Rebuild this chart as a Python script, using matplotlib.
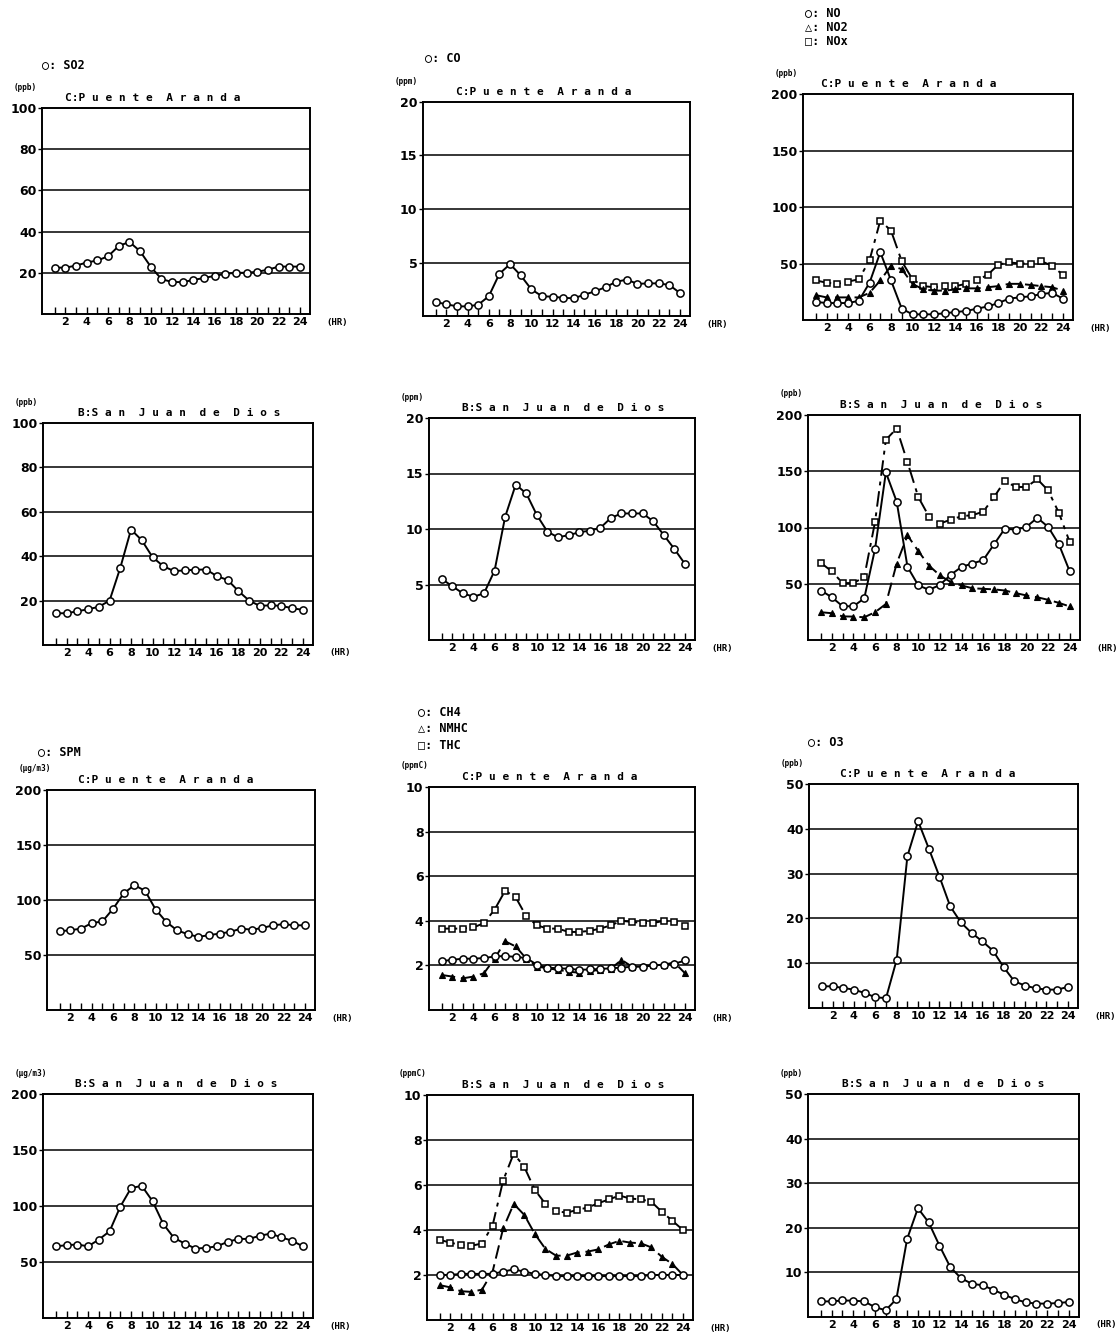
import matplotlib
matplotlib.use('Agg')
import matplotlib.pyplot as plt

# ---------------- data ----------------
hours = list(range(1, 25))
xtick_labels = [str(h) if h % 2 == 0 else '' for h in hours]

so2_c = [22.5, 22.5, 23.5, 25, 26, 28, 33, 35, 30.5, 23, 17, 15.5, 15.5, 16.5, 17.5, 18.5, 19.5, 20, 20, 20.5, 21.5, 23, 23, 23]
co_c = [1.3, 1.1, 0.9, 0.9, 1.05, 1.85, 3.95, 4.85, 3.8, 2.5, 1.85, 1.8, 1.7, 1.65, 2.0, 2.3, 2.7, 3.2, 3.4, 3.0, 3.05, 3.05, 2.9, 2.15]
no_c = [16, 15, 15, 15, 17, 33, 60, 35, 10, 5, 5, 5, 6, 7, 8, 10, 12, 15, 19, 20, 21, 23, 24, 19]
no2_c = [22, 20, 20, 20, 20, 24, 35, 48, 45, 32, 27, 26, 26, 27, 28, 28, 29, 30, 32, 32, 31, 30, 29, 26]
nox_c = [35, 33, 32, 34, 36, 53, 88, 79, 52, 36, 30, 29, 30, 30, 32, 35, 40, 49, 51, 50, 50, 52, 48, 40]

so2_b = [14.3, 14.3, 15.2, 16.1, 17.2, 20, 34.8, 52, 47.2, 39.6, 35.5, 33.3, 33.6, 33.9, 34, 31, 29.3, 24.3, 20, 17.6, 17.9, 17.6, 16.6, 15.8]
co_b = [5.5, 4.85, 4.2, 3.9, 4.2, 6.25, 11.1, 14.0, 13.2, 11.25, 9.75, 9.25, 9.45, 9.7, 9.85, 10.1, 11.0, 11.4, 11.4, 11.4, 10.7, 9.45, 8.2, 6.85]
no_b = [44, 38, 30, 30, 37, 81, 149, 123, 65, 48.5, 44.6, 49, 58, 65, 68, 71, 85, 99, 98, 100.6, 108.6, 100.6, 85, 61]
no2_b = [24.7, 23.8, 21, 20.8, 20.2, 24.7, 32, 68, 93, 79, 66, 57.4, 51.5, 48.5, 46, 45.5, 45, 44, 41.7, 39.6, 38, 35.7, 33, 29.8]
nox_b = [68.5, 61, 50.6, 50.6, 56, 105, 178, 188, 158, 127, 109.5, 103.5, 107, 110, 111, 114, 127, 141.5, 136, 136, 143, 133, 113, 87]

spm_c = [71.6, 72.5, 74, 79, 80.5, 92, 106, 113.5, 108.4, 91.3, 80, 72.5, 68.9, 66.5, 68, 69.5, 71, 74, 73, 74.5, 77, 78, 77, 77]
ch4_c = [2.19, 2.25, 2.3, 2.3, 2.33, 2.4, 2.42, 2.38, 2.33, 2.03, 1.9, 1.87, 1.85, 1.8, 1.82, 1.84, 1.87, 1.9, 1.94, 1.94, 2.0, 2.03, 2.07, 2.22]
nmhc_c = [1.57, 1.5, 1.42, 1.5, 1.65, 2.3, 3.08, 2.85, 2.3, 1.95, 1.87, 1.8, 1.72, 1.67, 1.75, 1.8, 1.85, 2.25, 1.94, 1.98, 2.0, 2.03, 2.13, 1.65]
thc_c = [3.65, 3.65, 3.65, 3.7, 3.9, 4.5, 5.35, 5.05, 4.2, 3.8, 3.65, 3.65, 3.5, 3.5, 3.55, 3.65, 3.8, 4.0, 3.95, 3.9, 3.9, 4.0, 3.95, 3.75]
o3_c = [4.84, 4.84, 4.47, 4.1, 3.35, 2.4, 2.2, 10.8, 33.9, 41.7, 35.6, 29.3, 22.7, 19.1, 16.75, 14.9, 12.8, 9.1, 5.96, 5.0, 4.4, 4.1, 4.1, 4.7]

spm_b = [64, 65, 65.6, 64, 70, 77.4, 99.4, 116, 118, 104.4, 84, 71.5, 66.5, 62, 62.6, 64, 68, 70.6, 70.6, 73.5, 75.3, 72, 69, 64]
ch4_b = [2.0, 2.0, 2.05, 2.05, 2.05, 2.05, 2.15, 2.25, 2.15, 2.05, 2.0, 1.95, 1.95, 1.95, 1.95, 1.95, 1.95, 1.95, 1.95, 1.95, 2.0, 2.0, 2.0, 2.0]
nmhc_b = [1.55, 1.45, 1.28, 1.25, 1.35, 2.15, 4.07, 5.16, 4.67, 3.82, 3.16, 2.86, 2.86, 3.0, 3.04, 3.14, 3.36, 3.52, 3.44, 3.41, 3.23, 2.81, 2.49, 2.0]
thc_b = [3.56, 3.44, 3.33, 3.3, 3.4, 4.2, 6.2, 7.4, 6.8, 5.78, 5.16, 4.84, 4.77, 4.89, 5.0, 5.19, 5.36, 5.53, 5.4, 5.36, 5.26, 4.81, 4.41, 4.0]
o3_b = [3.5, 3.5, 3.7, 3.66, 3.5, 2.24, 1.5, 4.0, 17.5, 24.4, 21.2, 16.0, 11.2, 8.7, 7.46, 7.1, 6.1, 5.0, 4.0, 3.28, 3.0, 3.0, 3.13, 3.36]

title_c = "C:Puente Aranda"
title_b = "B:San Juan de Dios"

# ---------------- drawing ----------------
W, H = 1119, 1334
fig = plt.figure(figsize=(W / 100, H / 100), dpi=100)
fig.patch.set_facecolor('white')
MONO = ['DejaVu Sans Mono', 'DejaVu Sans']


def spaced(t):
    head, rest = t.split(':', 1)
    words = rest.split(' ')
    return head + ':' + '  '.join(' '.join(w) for w in words)


def fx(px):
    return px / W


def fy(py):
    return 1 - py / H


STY = {
    'o': dict(marker='o', ms=5.2, mfc='white', mec='black', mew=1.1, color='black', lw=1.4, ls='-'),
    '^': dict(marker='^', ms=5.0, mfc='black', mec='black', mew=0.8, color='black', lw=1.4, ls=(0, (7, 3))),
    's': dict(marker='s', ms=5.0, mfc='white', mec='black', mew=1.1, color='black', lw=1.4, ls=(0, (8, 3, 2, 3))),
}


def panel(L, R, T, B, ymax, yticks, unit, title, series, toff=32):
    ax = fig.add_axes([fx(L), fy(B), (R - L) / W, (B - T) / H])
    ax.set_xlim(-0.2, 24.95)
    ax.set_ylim(0, ymax)
    for y in yticks[:-1]:
        ax.axhline(y, color='black', lw=1.1, zorder=1)
    ax.set_yticks(yticks)
    ax.set_yticklabels([str(v) for v in yticks], fontweight='bold', fontsize=9)
    ax.tick_params(axis='y', direction='out', length=3, width=1, pad=1)
    ax.set_xticks(hours)
    ax.set_xticklabels(xtick_labels, fontweight='bold', fontsize=8)
    ax.tick_params(axis='x', direction='in', length=5, width=1, pad=2)
    for s in ax.spines.values():
        s.set_linewidth(1.4)
    for vals, mk in series:
        ax.plot(hours, vals, zorder=3, **STY[mk])
    fig.text(fx(R + 16), fy(B + 8), '(HR)', fontsize=6.5, fontweight='bold', va='center', ha='left',
             family=MONO)
    fig.text(fx(L - 28), fy(T - 21), unit, fontsize=5.5, fontweight='bold', va='center', ha='left',
             family=MONO)
    fig.text(fx(L + toff), fy(T - 10), spaced(title), fontsize=8, fontweight='bold', va='center',
             ha='left', family=MONO)
    return ax


# Row 1 (C: Puente Aranda)
panel(42, 310, 108, 314, 100, [20, 40, 60, 80, 100], '(ppb)', title_c, [(so2_c, 'o')], toff=23)
panel(423, 690, 102, 316, 20, [5, 10, 15, 20], '(ppm)', title_c, [(co_c, 'o')], toff=33)
panel(803, 1073, 94, 320, 200, [50, 100, 150, 200], '(ppb)', title_c,
      [(nox_c, 's'), (no2_c, '^'), (no_c, 'o')], toff=18)

# Row 2 (B: San Juan de Dios)
panel(43, 313, 423, 645, 100, [20, 40, 60, 80, 100], '(ppb)', title_b, [(so2_b, 'o')], toff=35)
panel(429, 695, 418, 640, 20, [5, 10, 15, 20], '(ppm)', title_b, [(co_b, 'o')], toff=33)
panel(808, 1080, 415, 640, 200, [50, 100, 150, 200], '(ppb)', title_b,
      [(nox_b, 's'), (no2_b, '^'), (no_b, 'o')], toff=32)

# Row 3 (C: Puente Aranda)
panel(47, 315, 790, 1010, 200, [50, 100, 150, 200], '(\u00b5g/m3)', title_c, [(spm_c, 'o')], toff=31)
panel(429, 695, 787, 1010, 10, [2, 4, 6, 8, 10], '(ppmC)', title_c,
      [(thc_c, 's'), (nmhc_c, '^'), (ch4_c, 'o')], toff=33)
panel(809, 1078, 784, 1008, 50, [10, 20, 30, 40, 50], '(ppb)', title_c, [(o3_c, 'o')], toff=31)

# Row 4 (B: San Juan de Dios)
panel(43, 313, 1094, 1318, 200, [50, 100, 150, 200], '(\u00b5g/m3)', title_b, [(spm_b, 'o')], toff=32)
panel(427, 693, 1095, 1320, 10, [2, 4, 6, 8, 10], '(ppmC)', title_b,
      [(thc_b, 's'), (nmhc_b, '^'), (ch4_b, 'o')], toff=35)
panel(808, 1079, 1094, 1317, 50, [10, 20, 30, 40, 50], '(ppb)', title_b, [(o3_b, 'o')], toff=34)

# Species keys above panel columns
KEY = dict(fontsize=8.5, fontweight='bold', family=MONO, va='center', ha='left')
fig.text(fx(42), fy(65), '\u25cb: SO2', **KEY)
fig.text(fx(425), fy(58), '\u25cb: CO', **KEY)
fig.text(fx(805), fy(13), '\u25cb: NO', **KEY)
fig.text(fx(805), fy(27), '\u25b3: NO2', **KEY)
fig.text(fx(805), fy(41), '\u25a1: NOx', **KEY)
fig.text(fx(38), fy(752), '\u25cb: SPM', **KEY)
fig.text(fx(418), fy(712), '\u25cb: CH4', **KEY)
fig.text(fx(418), fy(728), '\u25b3: NMHC', **KEY)
fig.text(fx(418), fy(745), '\u25a1: THC', **KEY)
fig.text(fx(808), fy(742), '\u25cb: O3', **KEY)

fig.savefig('out.png', dpi=100, facecolor='white')
